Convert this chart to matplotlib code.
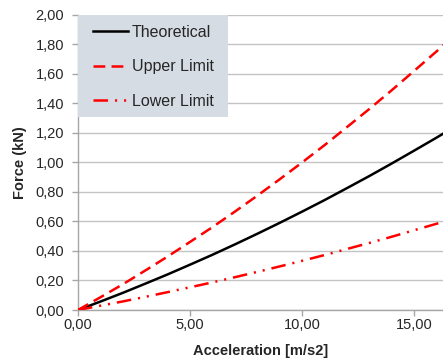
import matplotlib
matplotlib.use('Agg')
import matplotlib.pyplot as plt
from matplotlib.patches import Rectangle
from matplotlib.ticker import MultipleLocator, FuncFormatter

plt.rcParams['font.family'] = ['Liberation Sans', 'DejaVu Sans']
plt.rcParams['font.size'] = 10
plt.rcParams['lines.scale_dashes'] = False

accel = [0, 1, 2, 3, 4, 5, 6, 7, 8, 9, 10, 11, 12, 13, 14, 15, 16, 17]
theoretical = [0.000, 0.057, 0.116, 0.178, 0.241, 0.307, 0.374, 0.444, 0.516,
               0.590, 0.666, 0.744, 0.825, 0.907, 0.992, 1.079, 1.167, 1.258]
upper_limit = [0.000, 0.086, 0.174, 0.267, 0.362, 0.461, 0.561, 0.666, 0.774,
               0.885, 0.999, 1.116, 1.238, 1.361, 1.488, 1.619, 1.751, 1.887]
lower_limit = [0.000, 0.029, 0.058, 0.089, 0.121, 0.154, 0.187, 0.222, 0.258,
               0.295, 0.333, 0.372, 0.413, 0.454, 0.496, 0.540, 0.584, 0.629]

txt = '#262626'
grid_col = '#c3c3c3'

fig = plt.figure(figsize=(4.43, 3.63), dpi=100)
ax = fig.add_axes([0.176, 0.146, 0.824, 0.813])

ax.plot(accel, theoretical, color='black', lw=1.8, label='Theoretical', zorder=3)
ax.plot(accel, upper_limit, color='#ff0000', lw=1.8, dashes=(8.5, 4.5),
        label='Upper Limit', zorder=3)
ax.plot(accel, lower_limit, color='#ff0000', lw=1.8,
        dashes=(10.5, 5, 1.5, 5, 1.5, 5), label='Lower Limit', zorder=3)

ax.set_xlim(0, 16.3)
ax.set_ylim(0, 2.0)
ax.xaxis.set_major_locator(MultipleLocator(5))
ax.yaxis.set_major_locator(MultipleLocator(0.2))
fmt = FuncFormatter(lambda v, p: f"{v:.2f}".replace('.', ','))
ax.xaxis.set_major_formatter(fmt)
ax.yaxis.set_major_formatter(fmt)

ax.grid(axis='y', color=grid_col, lw=1.0, zorder=0)
ax.set_axisbelow(True)
for s in ['top', 'right']:
    ax.spines[s].set_visible(False)
for s in ['left', 'bottom']:
    ax.spines[s].set_color('#a6a6a6')
    ax.spines[s].set_linewidth(1.0)
ax.tick_params(axis='both', colors='#a6a6a6', labelcolor=txt, length=4,
               labelsize=10.5, width=1.0)
ax.tick_params(axis='y', pad=6)
ax.tick_params(axis='x', pad=1.5)

ax.set_xlabel('Acceleration [m/s2]', fontweight='bold', color=txt,
              fontsize=10.5, labelpad=9)
ax.set_ylabel('Force (kN)', fontweight='bold', color=txt, fontsize=10.5,
              labelpad=6)

# legend box (Excel style, wider side padding than matplotlib's)
box_w, box_h = 150 / 365, 102 / 295
ax.add_patch(Rectangle((0, 1 - box_h), box_w, box_h, transform=ax.transAxes,
                       facecolor='#d6dce4', edgecolor='none', zorder=4,
                       clip_on=False))
leg = ax.legend(loc='upper left', bbox_to_anchor=(15 / 365, 1 - 10 / 295),
                borderaxespad=0, borderpad=0, frameon=False,
                labelspacing=1.22, handlelength=2.2, handletextpad=0.25,
                fontsize=11.5)
leg.set_zorder(5)
for t in leg.get_texts():
    t.set_color(txt)

fig.savefig('out.png', dpi=100)
